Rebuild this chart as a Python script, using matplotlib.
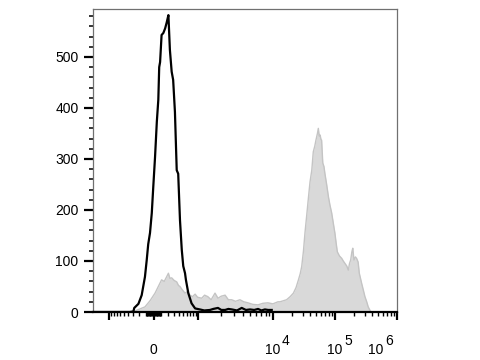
import numpy as np
import matplotlib.pyplot as plt
from matplotlib.ticker import FixedLocator, NullFormatter

plt.rcParams['font.family'] = ['Liberation Sans', 'DejaVu Sans']

# stained sample (grey fill): channel, count
grey_chan = [0, 124, 141, 158, 175, 192, 209, 220, 231, 240, 248, 254, 259, 265, 273, 282,
             288, 293, 300, 310, 318, 327, 335, 344, 352, 366, 376, 387, 398, 411, 421,
             432, 445, 456, 467, 480, 495, 508, 522, 538, 556, 572, 589, 606, 623, 630,
             641, 652, 664, 675, 684, 692, 698, 703, 709, 714, 720, 725, 731, 737, 742,
             747, 751, 756, 759, 762, 765, 768, 770, 774, 778, 781, 787, 793, 798, 804,
             810, 815, 819, 823, 830, 838, 843, 849, 855, 860, 864, 868, 872, 875, 879,
             884, 888, 893, 897, 901, 905, 911, 916, 922, 927, 935, 940, 1024]
grey_cnt = [0, 0, 2, 6, 10, 22, 37, 50, 63, 60, 69, 76, 66, 67, 62, 59,
            52, 50, 44, 37, 40, 33, 30, 35, 29, 27, 33, 30, 24, 37, 27,
            31, 33, 24, 24, 21, 24, 20, 18, 15, 14, 17, 18, 16, 20, 20,
            22, 24, 30, 37, 48, 63, 75, 89, 120, 155, 190, 220, 255, 278, 314,
            325, 337, 350, 360, 345, 347, 338, 337, 292, 285, 272, 250, 226, 210, 194,
            172, 154, 135, 118, 110, 105, 100, 95, 90, 82, 95, 102, 118, 125, 102,
            108, 105, 98, 76, 66, 56, 42, 30, 20, 10, 1, 0, 0]

# isotype control (black line): channel, count
ctrl_chan = [0, 124, 136, 139, 153, 164, 175, 181, 186, 192, 198, 203, 209, 215, 220,
             223, 226, 231, 237, 243, 248, 254, 259, 265, 270, 276, 282, 287, 293, 299,
             304, 310, 313, 321, 332, 344, 360, 375, 394, 405, 421, 432, 445, 456,
             468, 485, 501, 515, 529, 543, 556, 567, 579, 590, 602]
ctrl_cnt = [0, 0, 1, 8, 16, 33, 69, 102, 133, 155, 194, 245, 304, 373, 416,
            480, 490, 543, 547, 556, 567, 582, 514, 471, 455, 392, 278, 271, 180, 122,
            90, 76, 63, 37, 17, 7, 5, 3, 4, 6, 8, 4, 4, 6,
            5, 3, 8, 4, 5, 4, 6, 3, 5, 4, 4]

y_major = [0, 100, 200, 300, 400, 500]
decade_labels = ['0', '4', '5', '6']
decade_values = [0, 1e4, 1e5, 1e6]


def to_chan(v):
    # biexponential-like display: linear/asinh around zero, log above 10^3
    v = np.asarray(v, dtype=float)
    lin = 204 + 150 * np.arcsinh(v / 300) / np.arcsinh(1000 / 300)
    logpart = np.interp(np.log10(np.maximum(np.abs(v), 1)), [3, 4, 5, 6], [354, 606, 815, 1024])
    return np.where(v > 1000, logpart, lin)


fig = plt.figure(figsize=(4.8, 3.6), dpi=100)
ax = fig.add_axes([93 / 480, 1 - 312 / 360, 304 / 480, 303 / 360])

ax.fill_between(grey_chan, grey_cnt, color='#d9d9d9', lw=0, zorder=1)
ax.plot(grey_chan, grey_cnt, color='#c4c4c4', lw=1.0, zorder=2)
ax.plot(ctrl_chan, ctrl_cnt, color='black', lw=1.6, zorder=3)

ax.set_xlim(0, 1024)
ax.set_ylim(0, 594)

# y axis
ax.set_yticks(y_major)
ax.yaxis.set_minor_locator(FixedLocator([v for v in range(20, 600, 20) if v % 100]))
ax.tick_params(axis='y', which='major', direction='out', length=6.5, width=1.6,
               labelsize=10, pad=4)
ax.tick_params(axis='y', which='minor', direction='out', length=3.2, width=1.1)

# x axis: biexponential ticks
major_vals = [-1e3, 0, 1e3, 1e4, 1e5, 1e6]
minor_vals = []
for s in (-1, 1):
    minor_vals += [s * k * 10 for k in range(1, 10)]
    minor_vals += [s * k * 100 for k in range(1, 10)]
for d in (1e3, 1e4, 1e5):
    minor_vals += [k * d for k in range(2, 10)]
ax.set_xticks(to_chan(major_vals))
ax.xaxis.set_minor_locator(FixedLocator(to_chan(minor_vals)))
ax.xaxis.set_major_formatter(NullFormatter())
ax.tick_params(axis='x', which='major', direction='out', length=6.0, width=1.6)
ax.tick_params(axis='x', which='minor', direction='out', length=3.0, width=1.0)

shifts = [0, 0, 0, -15]
for val, lab, sh in zip(decade_values, decade_labels, shifts):
    c = float(to_chan(val))
    if lab == '0':
        ax.annotate('0', xy=(c, 0), xycoords=('data', 'axes fraction'),
                    xytext=(sh, -30), textcoords='offset points',
                    ha='center', va='baseline', fontsize=10)
    else:
        ax.annotate('10', xy=(c, 0), xycoords=('data', 'axes fraction'),
                    xytext=(sh, -30), textcoords='offset points',
                    ha='center', va='baseline', fontsize=10)
        ax.annotate(lab, xy=(c, 0), xycoords=('data', 'axes fraction'),
                    xytext=(sh + 6.5, -23.5), textcoords='offset points',
                    ha='left', va='baseline', fontsize=10)

for side in ('left', 'top', 'right'):
    ax.spines[side].set_color('#707070')
    ax.spines[side].set_linewidth(0.9)
ax.spines['bottom'].set_color('black')
ax.spines['bottom'].set_linewidth(1.6)

fig.savefig('out.png', dpi=100)
